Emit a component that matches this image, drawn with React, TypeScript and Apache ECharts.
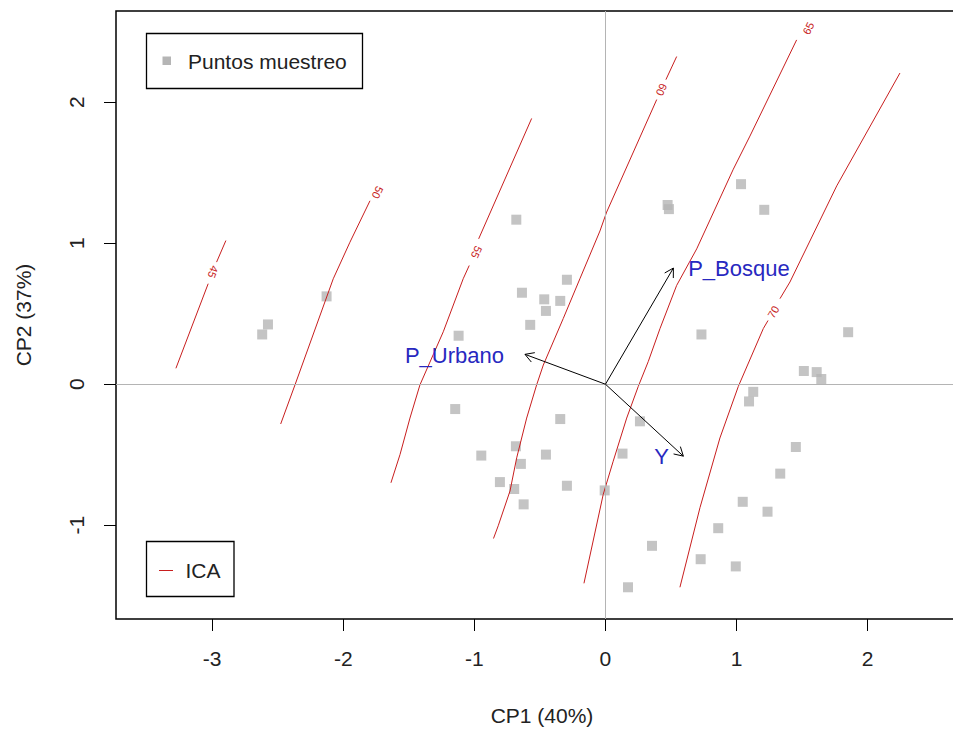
import React, { useEffect, useRef } from "react";
import * as echarts from "echarts";

// ---------- data ----------
const xTicks = [-3, -2, -1, 0, 1, 2];
const yTicks = [-1, 0, 1, 2];

const puntosX = [
  -2.618, -2.574, -2.127, -0.68, -0.294, -0.637, -0.467, -0.345, -0.454, -0.574, -1.12,
  -1.146, -0.345, -0.947, -0.683, -0.645, -0.454, -0.805, -0.696, -0.294, -0.624, -0.006,
  0.263, 0.13, 0.172, 0.355, 0.474, 0.484, 1.034, 1.211, 0.732, 1.851, 1.513, 1.611, 1.646,
  1.127, 1.095, 1.452, 1.333, 1.047, 1.236, 0.86, 0.726, 0.994,
];
const puntosY = [
  0.353, 0.424, 0.623, 1.167, 0.741, 0.649, 0.602, 0.591, 0.52, 0.421, 0.344,
  -0.176, -0.247, -0.506, -0.44, -0.565, -0.499, -0.694, -0.743, -0.72, -0.852, -0.753,
  -0.263, -0.492, -1.44, -1.146, 1.271, 1.242, 1.419, 1.237, 0.353, 0.369, 0.094, 0.086, 0.037,
  -0.054, -0.122, -0.445, -0.634, -0.834, -0.904, -1.021, -1.241, -1.292,
];

// contour lines of ICA (segments split where the label sits)
const contour45 = [
  [[-3.276, 0.113], [-3.03, 0.713]],
  [[-2.966, 0.866], [-2.895, 1.019]],
];
const contour50 = [
  [[-2.477, -0.282], [-2.368, -0.005], [-2.076, 0.748], [-1.949, 1.007], [-1.796, 1.301]],
];
const contour55 = [
  [[-1.636, -0.699], [-1.567, -0.499], [-1.491, -0.24], [-1.415, -0.005], [-1.237, 0.372], [-1.085, 0.748], [-1.039, 0.842]],
  [[-0.967, 1.031], [-0.563, 1.885]],
];
const contour60 = [
  [[-0.854, -1.094], [-0.818, -1.004], [-0.728, -0.757], [-0.677, -0.522], [-0.601, -0.24], [-0.525, -0.005], [-0.474, 0.136], [-0.322, 0.466], [-0.195, 0.748], [-0.042, 1.087], [0.009, 1.221], [0.391, 2.019]],
  [[0.461, 2.16], [0.543, 2.324]],
];
const contour65 = [
  [[-0.164, -1.412], [-0.017, -0.781], [0.059, -0.546], [0.162, -0.24], [0.25, -0.016], [0.326, 0.16], [0.416, 0.395], [0.543, 0.701], [0.696, 0.96], [0.975, 1.525], [1.102, 1.76], [1.458, 2.442]],
];
const contour70 = [
  [[0.568, -1.44], [0.721, -0.875], [0.873, -0.381], [1.013, -0.016], [1.204, 0.395], [1.24, 0.452]],
  [[1.331, 0.607], [1.407, 0.725], [1.764, 1.407], [2.246, 2.207]],
];
const contourLevels = [45, 50, 55, 60, 65, 70];
const contourLines = [contour45, contour50, contour55, contour60, contour65, contour70];
const contourLabelX = [-2.992, -1.738, -0.982, 0.429, 1.547, 1.28];
const contourLabelY = [0.796, 1.36, 0.937, 2.089, 2.525, 0.513];

// biplot arrows
const arrowNames = ["P_Bosque", "P_Urbano", "Y"];
const arrowTipX = [0.518, -0.614, 0.594];
const arrowTipY = [0.824, 0.212, -0.51];
const arrowLabelX = [1.018, -1.152, 0.429];
const arrowLabelY = [0.819, 0.207, -0.51];

// ---------- styles ----------
const FONT = '"Liberation Sans", Arial, sans-serif';
const RED = "#c81e1e";
const GRAY_PT = "#b5b5b5";
const BLUE = "#2828c0";
const labelFlip = [true, true, true, true, false, false];

export default function App() {
  const ref = useRef<HTMLDivElement>(null);

  useEffect(() => {
    if (!ref.current) return;
    const chart = echarts.init(ref.current, undefined, { renderer: "svg" });

    const contourSeries: any[] = [];
    contourLines.forEach((segs, i) => {
      segs.forEach((seg) => {
        contourSeries.push({
          type: "line",
          name: "ICA " + contourLevels[i],
          data: seg,
          showSymbol: false,
          symbol: "none",
          smooth: false,
          lineStyle: { color: RED, width: 1 },
          z: 3,
          silent: true,
        });
      });
    });

    const option: any = {
      animation: false,
      grid: {
        left: 116,
        top: 11,
        right: 0,
        bottom: 109,
        show: true,
        borderColor: "#000",
        borderWidth: 1.5,
        backgroundColor: "transparent",
      },
      xAxis: {
        type: "value",
        min: -3.733,
        max: 2.765,
        axisLine: { show: false, onZero: false },
        splitLine: { show: false },
        axisTick: { show: true, length: 12, customValues: xTicks, lineStyle: { color: "#000", width: 1 } },
        axisLabel: {
          customValues: xTicks,
          margin: 29,
          fontSize: 21,
          fontFamily: FONT,
          color: "#222",
        },
        name: "CP1 (40%)",
        nameLocation: "middle",
        nameGap: 86,
        nameTextStyle: { fontSize: 21, fontFamily: FONT, color: "#222" },
      },
      yAxis: {
        type: "value",
        min: -1.665,
        max: 2.647,
        axisLine: { show: false, onZero: false },
        splitLine: { show: false },
        axisTick: { show: true, length: 12, customValues: yTicks, lineStyle: { color: "#000", width: 1 } },
        axisLabel: {
          customValues: yTicks,
          rotate: 90,
          margin: 29,
          fontSize: 21,
          fontFamily: FONT,
          color: "#222",
        },
        name: "CP2 (37%)",
        nameLocation: "middle",
        nameGap: 82,
        nameTextStyle: { fontSize: 21, fontFamily: FONT, color: "#222" },
      },
      series: [
        {
          type: "line",
          data: [],
          z: 1,
          silent: true,
          markLine: {
            silent: true,
            symbol: ["none", "none"],
            label: { show: false },
            lineStyle: { color: "#b4b4b4", type: "solid", width: 1 },
            data: [{ xAxis: 0 }, { yAxis: 0 }],
          },
        },
        ...contourSeries,
        {
          type: "custom",
          name: "contour labels",
          data: contourLabelX.map((x, i) => [x, contourLabelY[i]]),
          encode: { x: 0, y: 1 },
          z: 4,
          silent: true,
          renderItem: (params: any, api: any) => {
            const i = params.dataIndex;
            const seg = contourLines[i][0];
            const a = api.coord(seg[seg.length - 2]);
            const b = api.coord(seg[seg.length - 1]);
            let ang = Math.atan2(-(b[1] - a[1]), b[0] - a[0]);
            if (labelFlip[i]) ang -= Math.PI;
            const p = api.coord([api.value(0), api.value(1)]);
            return {
              type: "text",
              x: p[0],
              y: p[1],
              rotation: ang,
              style: {
                text: String(contourLevels[i]),
                fill: RED,
                font: "11px " + FONT,
                align: "center",
                verticalAlign: "middle",
                textAlign: "center",
                textVerticalAlign: "middle",
              },
            };
          },
        },
        {
          type: "scatter",
          name: "Puntos muestreo",
          data: puntosX.map((x, i) => [x, puntosY[i]]),
          symbol: "rect",
          symbolSize: 10,
          itemStyle: { color: GRAY_PT },
          z: 2,
          silent: true,
        },
        {
          type: "custom",
          name: "arrows",
          data: arrowTipX.map((x, i) => [x, arrowTipY[i]]),
          encode: { x: 0, y: 1 },
          z: 5,
          silent: true,
          renderItem: (params: any, api: any) => {
            const o = api.coord([0, 0]);
            const t = api.coord([api.value(0), api.value(1)]);
            const ang = Math.atan2(t[1] - o[1], t[0] - o[0]);
            const L = 10;
            const h = Math.PI / 6;
            const p1 = [t[0] - L * Math.cos(ang - h), t[1] - L * Math.sin(ang - h)];
            const p2 = [t[0] - L * Math.cos(ang + h), t[1] - L * Math.sin(ang + h)];
            return {
              type: "group",
              children: [
                { type: "line", shape: { x1: o[0], y1: o[1], x2: t[0], y2: t[1] }, style: { stroke: "#000", lineWidth: 1 } },
                { type: "polyline", shape: { points: [p1, t, p2] }, style: { stroke: "#000", fill: "none", lineWidth: 1 } },
              ],
            };
          },
        },
        {
          type: "custom",
          name: "arrow labels",
          data: arrowLabelX.map((x, i) => [x, arrowLabelY[i]]),
          encode: { x: 0, y: 1 },
          z: 6,
          silent: true,
          renderItem: (params: any, api: any) => {
            const p = api.coord([api.value(0), api.value(1)]);
            return {
              type: "text",
              x: p[0],
              y: p[1],
              style: {
                text: arrowNames[params.dataIndex],
                fill: BLUE,
                font: "22px " + FONT,
                align: "center",
                verticalAlign: "middle",
                textAlign: "center",
                textVerticalAlign: "middle",
              },
            };
          },
        },
      ],
      graphic: [
        {
          type: "rect",
          z: 100,
          shape: { x: 146.5, y: 33.5, width: 216, height: 55 },
          style: { fill: "#fff", stroke: "#000", lineWidth: 1.3 },
        },
        {
          type: "rect",
          z: 101,
          shape: { x: 162.5, y: 56.5, width: 8.5, height: 8.5 },
          style: { fill: GRAY_PT },
        },
        {
          type: "text",
          z: 101,
          x: 188,
          y: 61,
          style: { text: "Puntos muestreo", font: "21px " + FONT, fill: "#222", verticalAlign: "middle", textVerticalAlign: "middle" },
        },
        {
          type: "rect",
          z: 100,
          shape: { x: 146.5, y: 541.5, width: 87.5, height: 55 },
          style: { fill: "#fff", stroke: "#000", lineWidth: 1.3 },
        },
        {
          type: "line",
          z: 101,
          shape: { x1: 159, y1: 570.5, x2: 173, y2: 570.5 },
          style: { stroke: RED, lineWidth: 1 },
        },
        {
          type: "text",
          z: 101,
          x: 185.5,
          y: 570,
          style: { text: "ICA", font: "21px " + FONT, fill: "#222", verticalAlign: "middle", textVerticalAlign: "middle" },
        },
      ],
    };

    chart.setOption(option);
    return () => chart.dispose();
  }, []);

  return (
    <div style={{ position: "absolute", left: 0, top: 0, width: 953, height: 731, overflow: "hidden", background: "#fff" }}>
      <div ref={ref} style={{ position: "absolute", left: 0, top: 0, width: 968, height: 731 }} />
    </div>
  );
}
